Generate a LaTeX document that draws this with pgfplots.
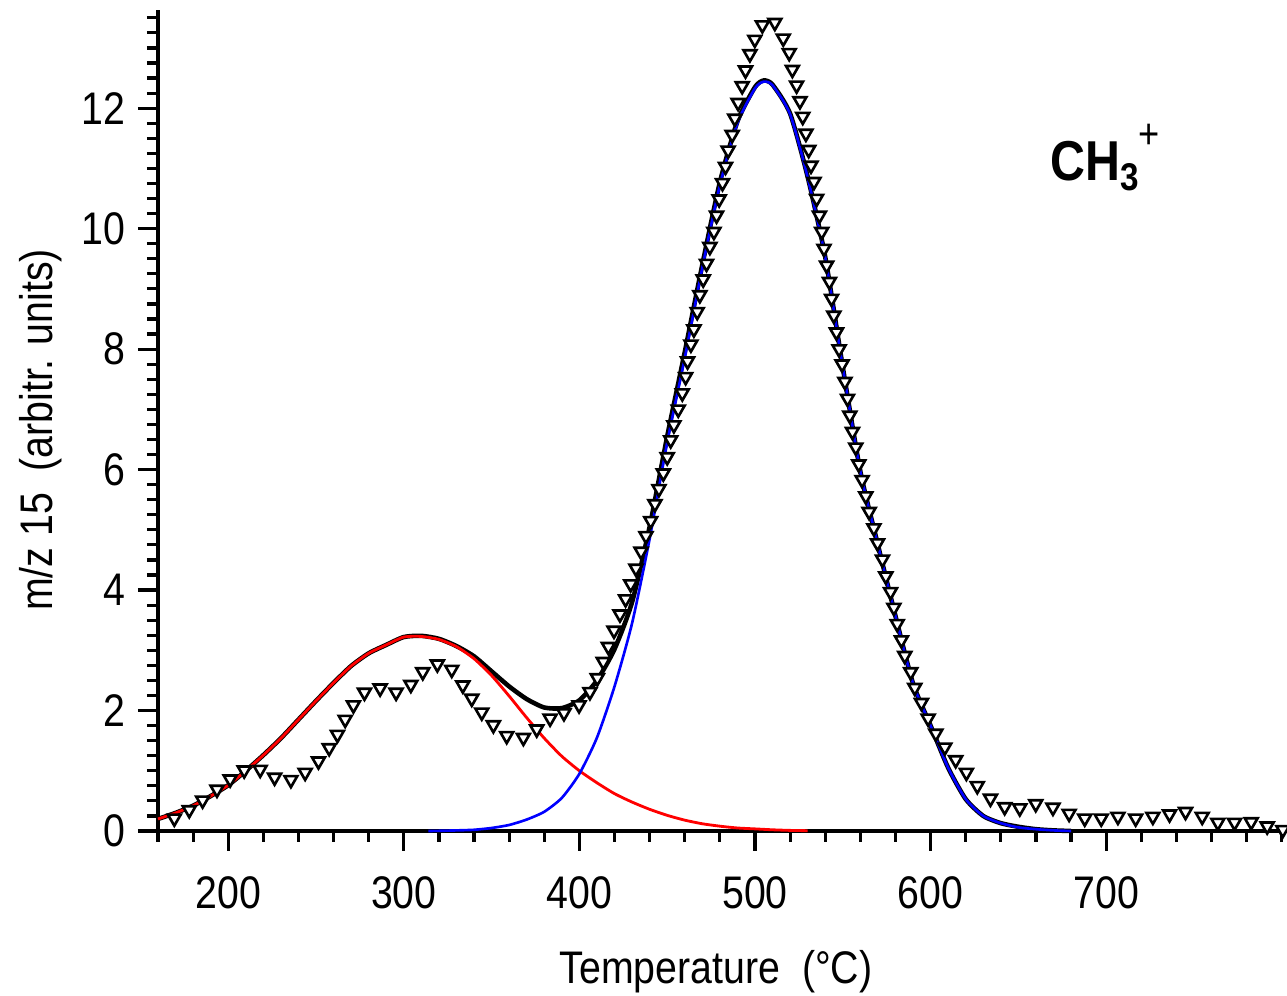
\documentclass[border=0pt]{standalone}
\usepackage{fontspec}
\setmainfont{Liberation Sans}[FakeStretch=0.86]
\usepackage{pgfplots}
\pgfplotsset{compat=1.18}
\usetikzlibrary{calc}

\begin{document}
\begin{tikzpicture}
\begin{axis}[
    scale only axis,
    width=112.9mm,
    height=82.1mm,
    xmin=160, xmax=803,
    ymin=0, ymax=13.63,
    axis lines*=left,
    axis line style={line width=1.1pt, -},
    xtick={200,300,...,700},
    ytick={0,2,...,12},
    minor xtick={160,180,...,800},
    minor ytick={0,0.25,...,13.5},
    tick align=outside,
    major tick length=2mm,
    minor tick length=1.1mm,
    every tick/.style={black, line width=0.9pt},
    tick label style={font=\fontsize{13}{15}\selectfont},
    xticklabel style={yshift=-1.3mm},
    /pgf/number format/assume math mode=true,
    clip=false,
]
% total fit
\addplot[black, line width=1.3pt, smooth, tension=0.4] coordinates {
    (160,0.20) (170,0.30) (180,0.42) (190,0.58) (200,0.76) (210,1.00)
    (220,1.26) (230,1.54) (240,1.85) (250,2.16) (260,2.46) (270,2.74)
    (280,2.95) (290,3.09) (300,3.22) (310,3.24) (320,3.19) (330,3.07)
    (340,2.90) (350,2.65) (360,2.40) (370,2.19) (380,2.05) (390,2.04)
    (400,2.17) (410,2.50) (420,3.02) (430,3.80) (440,5.05) (450,6.55)
    (460,7.95) (470,9.40) (480,10.77) (490,11.78) (500,12.35) (505,12.46)
    (510,12.39) (520,11.91) (530,10.86) (540,9.53) (550,7.70) (560,5.97)
    (570,4.75) (580,3.57) (590,2.45) (600,1.75) (610,1.05) (620,0.53)
    (630,0.25) (640,0.13) (650,0.07) (660,0.03) (670,0.01) (680,0.0)
};
% low temperature peak
\addplot[red, line width=0.8pt, smooth, tension=0.4] coordinates {
    (160,0.20) (170,0.30) (180,0.42) (190,0.58) (200,0.76) (210,1.00)
    (220,1.26) (230,1.54) (240,1.85) (250,2.16) (260,2.46) (270,2.74)
    (280,2.95) (290,3.09) (300,3.22) (310,3.23) (320,3.18) (330,3.06)
    (340,2.86) (350,2.58) (360,2.24) (370,1.88) (380,1.54) (390,1.24)
    (400,1.00) (410,0.80) (420,0.62) (430,0.48) (440,0.36) (450,0.26)
    (460,0.18) (470,0.12) (480,0.08) (490,0.05) (500,0.035) (510,0.02)
    (520,0.01) (530,0.005)
};
% high temperature peak
\addplot[blue, line width=0.75pt, smooth, tension=0.4] coordinates {
    (314,0.0) (320,0.003) (330,0.01) (340,0.02) (350,0.05) (360,0.10)
    (370,0.19) (380,0.32) (390,0.55) (400,0.95) (410,1.55) (420,2.40)
    (430,3.45) (440,4.85) (450,6.45) (460,7.85) (470,9.35) (480,10.72)
    (490,11.75) (500,12.33) (505,12.44) (510,12.38) (520,11.90) (530,10.85)
    (540,9.52) (550,7.70) (560,5.97) (570,4.75) (580,3.57) (590,2.45)
    (600,1.75) (610,1.05) (620,0.53) (630,0.25) (640,0.13) (650,0.06)
    (660,0.03) (670,0.01) (680,0.0)
};
% measured m/z 15
\addplot[only marks, mark=triangle*, mark size=2.1pt,
    mark options={fill=white, draw=black, line width=0.75pt, rotate=180}] coordinates {
    (169.3,0.21) (177.8,0.35) (185.4,0.51) (193.6,0.69) (201.1,0.86) (209.1,1.01)
    (218.2,1.02) (226.4,0.89) (235.7,0.85) (243.8,0.97) (251.4,1.16) (257.5,1.38)
    (262.2,1.60) (266.6,1.85) (271.3,2.09) (277.6,2.30) (286.5,2.37) (295.6,2.30)
    (304.0,2.43) (310.8,2.64) (319.1,2.77) (327.3,2.68) (333.6,2.42) (338.7,2.20)
    (344.4,1.97) (351.0,1.76) (358.6,1.58) (368.1,1.55) (375.7,1.69) (383.3,1.87)
    (391.2,1.96) (399.8,2.09) (406.0,2.31) (410.2,2.54) (413.6,2.81) (416.5,3.06)
    (419.7,3.33) (423.1,3.60) (426.3,3.85) (429.2,4.10) (432.2,4.36) (435.1,4.64)
    (437.9,4.90) (440.6,5.15) (443.0,5.43) (445.3,5.68) (447.8,5.94) (450.0,6.21)
    (452.0,6.49) (453.8,6.74) (456.3,7.00) (458.6,7.27) (460.5,7.54) (461.6,7.80)
    (463.5,8.08) (465.2,8.33) (467.1,8.62) (468.6,8.90) (470.5,9.16) (472.4,9.42)
    (474.3,9.70) (476.6,9.95) (478.1,10.22) (479.6,10.49) (481.5,10.76) (483.2,11.03)
    (484.7,11.30) (487.0,11.56) (488.5,11.83) (490.4,12.09) (492.7,12.37) (494.6,12.63)
    (497.1,12.90) (499.9,13.14) (504.2,13.38) (511.3,13.42) (516.1,13.16) (519.5,12.92)
    (521.3,12.64) (523.7,12.38) (525.6,12.12) (527.2,11.86) (529.0,11.58) (530.6,11.31)
    (531.9,11.05) (533.6,10.78) (535.1,10.50) (536.7,10.22) (538.0,9.95) (539.3,9.67)
    (540.8,9.39) (542.4,9.12) (543.6,8.84) (544.9,8.56) (546.4,8.28) (547.9,8.00)
    (549.6,7.75) (551.2,7.46) (552.7,7.18) (554.0,6.90) (555.5,6.63) (557.4,6.37)
    (559.1,6.09) (561.0,5.83) (563.1,5.56) (565.0,5.30) (567.7,5.03) (569.8,4.78)
    (572.6,4.51) (574.5,4.23) (577.2,3.97) (579.1,3.71) (581.0,3.44) (583.4,3.17)
    (585.3,2.91) (588.7,2.64) (591.0,2.38) (594.8,2.13) (598.6,1.87) (603.0,1.62)
    (608.1,1.39) (614.3,1.18) (620.4,0.97) (626.6,0.75) (634.1,0.54) (642.2,0.40)
    (650.8,0.38) (659.9,0.45) (669.7,0.39) (678.9,0.29) (687.8,0.21) (697.2,0.21)
    (706.7,0.24) (716.8,0.21) (726.6,0.24) (736.1,0.28) (745.2,0.32) (754.7,0.24)
    (763.6,0.14) (773.1,0.14) (782.6,0.15) (791.7,0.08) (800.6,0.02)
};
\node[anchor=base west, inner sep=0pt] at (axis cs:667.8,10.8)
    {{\bfseries\fontsize{16}{18}\selectfont CH}\raisebox{-2.8pt}{\bfseries\fontsize{11}{12}\selectfont 3}\raisebox{9.2pt}{\fontsize{12}{13}\selectfont +}};
\end{axis}
\node[rotate=90, font=\fontsize{13}{15}\selectfont] at ($(current axis.south west)+(-11.7mm,40.1mm)$)
    {m/z 15\ \ (arbitr. units)};
\node[font=\fontsize{13}{15}\selectfont] at ($(current axis.south west)+(55.8mm,-14.1mm)$)
    {Temperature\ \ (°C)};
\pgfresetboundingbox
\path ($(current axis.south west)+(-15.8mm,-16.5mm)$) rectangle ($(current axis.north east)+(0mm,1.0mm)$);
\end{tikzpicture}
\end{document}
